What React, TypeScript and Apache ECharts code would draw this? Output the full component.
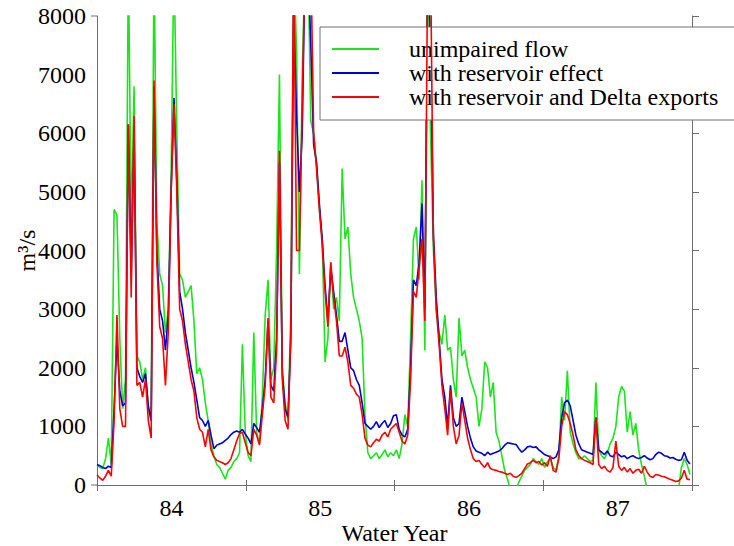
import React, { useEffect, useRef } from "react";
import * as echarts from "echarts";

// Water years shown on the axis
const waterYears = ["84", "85", "86", "87"];
// y-axis tick labels (m3/s)
const flowTicks = [0, 1000, 2000, 3000, 4000, 5000, 6000, 7000, 8000];
// weekly samples, week 0 = start of the plotted period (83.5)
const weeksInRange = 1461 / 7;

const seriesNames = [
  "unimpaired flow",
  "with reservoir effect",
  "with reservoir and Delta exports",
];

// m3/s, weekly samples
const unimpaired = [
  330, 300, 280, 450, 800, 350, 4700, 4600, 2500, 1300,
  1800, 9000, 4400, 6800, 2200, 2100, 1800, 2000, 1300, 1100,
  9000, 4500, 3600, 3400, 2600, 3000, 5300, 9000, 6000, 3600,
  3500, 3200, 3300, 3400, 2800, 1900, 2000, 1800, 1400, 1100,
  700, 500, 350, 300, 200, 100, 250, 300, 400, 450,
  550, 2400, 900, 500, 400, 2600, 900, 700, 1500, 2900,
  3500, 1800, 2000, 4000, 7000, 2000, 1400, 1100, 3000, 9000,
  7400, 3600, 7000, 9000, 9000, 6200, 6000, 5500, 4700, 4200,
  2100, 2500, 3800, 3000, 3200, 2800, 5400, 4200, 4400, 3600,
  3200, 3000, 2800, 2500, 1200, 550, 450, 500, 550, 450,
  520, 600, 480, 550, 500, 600, 450, 700, 1200, 1000,
  2500, 4200, 4400, 3500, 5200, 2300, 9000, 6000, 4000, 3000,
  2600, 2400, 2900, 2300, 2350, 1800, 1500, 2850, 2200, 2300,
  2000, 1800, 1650, 1500, 1000, 1300, 2100, 2000, 1500, 1750,
  900, 750, 500, 250, 100, -80, -80, -80, 50, 150,
  250, 300, 350, 450, 400, 350, 450, 300, 400, 450,
  300, 250, 500, 1500, 1100, 1950, 900, 700, 550, 450,
  450, 500, 450, 400, 420, 1750, 600, 500, 450, 550,
  700, 800, 1000, 1500, 1680, 1600, 900, 1250, 850, 1050,
  600, 350, 150, -80, -80, -80, -80, -80, -80, -80,
  -80, -80, -80, -80, -80, 300, 450, 350, 180,
];

const reservoir = [
  350, 330, 300, 280, 320, 300, 1300, 2500, 1600, 1350,
  1400, 6150, 3600, 6000, 2000, 1850, 1750, 1900, 1350, 1100,
  6800, 4000, 3000, 2800, 2300, 2900, 5000, 6600, 5200, 3300,
  3000, 2600, 2300, 2000, 1750, 1450, 1150, 1100, 1000, 1100,
  850, 620, 680, 700, 720, 760, 800, 860, 900, 920,
  900, 950, 870, 800, 700, 1050, 980, 900, 1300, 1800,
  2800, 1700, 1600, 2500, 5500, 1900, 1300, 1150, 2500, 8200,
  6300, 5000, 6000, 9000, 9000, 7500, 5800, 5500, 4800, 4200,
  3400, 2800, 3700, 3300, 2900, 2450, 2450, 2600, 2300, 2000,
  1950, 1800, 1700, 1400, 1050, 1000, 950, 1000, 1080, 980,
  1050, 1100, 980, 1050, 1180, 1200, 950, 850, 820, 950,
  2000, 3500, 3400, 3800, 4800, 3000, 9000, 7500, 4300, 3200,
  2500, 1800, 1500, 1000, 1700, 1150, 1000, 1050, 1500, 1250,
  1000, 800, 650, 580, 560, 540, 500, 560, 520, 540,
  560, 580, 620, 680, 720, 710, 700, 690, 620, 560,
  600, 650, 660, 640, 650, 600, 560, 520, 500, 480,
  450, 480, 600, 1150, 1400, 1450, 1350, 1100, 850, 700,
  600, 580, 560, 540, 520, 1150, 600, 560, 520, 580,
  500, 480, 560, 520, 480, 500, 450, 480, 500, 470,
  450, 470, 500, 460, 430, 450, 520, 560, 540, 500,
  490, 460, 470, 440, 420, 430, 560, 420, 360,
];

const reservoirExports = [
  170, 120, 80, 150, 250, 150, 1100, 2900, 1300, 1000,
  1000, 6150, 3200, 6300, 1700, 1750, 1500, 1800, 1100, 800,
  6900, 3800, 2700, 2500, 1700, 2600, 5000, 6500, 5000, 3000,
  2800, 2400, 2100, 1800, 1600, 1150, 950, 900, 650, 950,
  600, 480, 420, 400, 380, 350, 380, 450, 600, 750,
  880, 900, 720, 560, 500, 950, 850, 680, 1200, 1700,
  2850, 1500, 1400, 2300, 5700, 1800, 1100, 950, 2600, 9000,
  4000, 4000, 6500, 9000, 9000, 9000, 6000, 5400, 4700, 4100,
  3300, 2700, 3800, 3200, 2800, 2200, 2200, 2350, 2100, 1700,
  1650, 1550, 1500, 1200, 800, 680, 650, 720, 780, 750,
  850, 900, 820, 950, 1000, 1050, 900, 750, 700, 850,
  1800, 3300, 3200, 3700, 4200, 2800, 9000, 9000, 4200, 3000,
  2400, 1700, 1300, 850, 1620, 1000, 700, 850, 1400, 1100,
  800, 600, 450, 400, 420, 350, 300, 380, 280, 260,
  250, 230, 220, 200, 180, 200, 150, 130, 160, 200,
  280, 360, 380, 420, 380, 400, 340, 380, 320, 500,
  250, 220, 450, 1000, 1250, 1200, 1050, 850, 600, 500,
  450, 420, 400, 380, 350, 1150, 350, 280, 320, 250,
  220, 300, 750, 320, 250, 300, 220, 280, 200, 250,
  270, 200, 320, 220, 150, 130, 180, 170, 150, 140,
  120, 100, 80, 60, 70, 120, 250, 100, 90,
];

const colors = ["#19e619", "#0000d2", "#ff0000"];
const FONT = "Liberation Serif";
const AXIS_COLOR = "#6e6e6e";

export default function App() {
  const ref = useRef<HTMLDivElement>(null);

  useEffect(() => {
    if (!ref.current) return;
    const chart = echarts.init(ref.current, null, { renderer: "svg" });
    const toPairs = (arr: number[]) => arr.map((v, i) => [i, v]);
    const allSeries = [unimpaired, reservoir, reservoirExports];
    const tickLabel = { fontFamily: FONT, fontSize: 24, color: "#000" };

    chart.setOption({
      animation: false,
      backgroundColor: "#ffffff",
      textStyle: { fontFamily: FONT, fontSize: 24 },
      grid: {
        left: 97,
        right: 42,
        top: 16,
        bottom: 61,
        containLabel: false,
        outerBoundsMode: "none",
      },
      legend: {
        orient: "vertical",
        left: 320,
        top: 27,
        padding: [10, 60, 11, 12],
        itemGap: 0,
        itemWidth: 47,
        itemHeight: 2,
        icon: "rect",
        backgroundColor: "#ffffff",
        borderColor: "#707070",
        borderWidth: 1,
        borderRadius: 0,
        data: seriesNames,
        textStyle: {
          fontFamily: FONT,
          fontSize: 24,
          color: "#000",
          lineHeight: 23.5,
          padding: [0, 0, 0, 25],
        },
      },
      xAxis: [
        {
          type: "category",
          position: "bottom",
          data: waterYears,
          boundaryGap: true,
          axisLine: { lineStyle: { color: AXIS_COLOR, width: 1 } },
          axisTick: { show: true, inside: false, length: 6, lineStyle: { color: AXIS_COLOR } },
          axisLabel: { ...tickLabel, margin: 11 },
          splitLine: { show: false },
          name: "Water Year",
          nameLocation: "middle",
          nameGap: 36,
          nameMoveOverlap: false,
          nameTextStyle: { fontFamily: FONT, fontSize: 24, color: "#000" },
        },
        {
          type: "category",
          position: "top",
          data: waterYears,
          boundaryGap: true,
          axisLine: { lineStyle: { color: AXIS_COLOR, width: 1 } },
          axisTick: { show: true, inside: false, length: 5, lineStyle: { color: AXIS_COLOR } },
          axisLabel: { show: false },
          splitLine: { show: false },
        },
        {
          type: "value",
          show: false,
          min: 0,
          max: weeksInRange,
        },
      ],
      yAxis: [
        {
          type: "value",
          position: "left",
          min: 0,
          max: 8000,
          interval: 1000,
          axisLine: { show: true, lineStyle: { color: AXIS_COLOR, width: 1 } },
          axisTick: { show: false },
          axisLabel: {
            ...tickLabel,
            margin: 11,
            formatter: (v: number) => String(v),
          },
          splitLine: { show: false },
          name: "m³/s",
          nameLocation: "middle",
          nameGap: 58,
          nameRotate: 90,
          nameMoveOverlap: false,
          nameTextStyle: { fontFamily: FONT, fontSize: 24, color: "#000" },
        },
        {
          type: "value",
          position: "right",
          min: 0,
          max: 8000,
          interval: 1000,
          axisLine: { show: true, lineStyle: { color: AXIS_COLOR, width: 1 } },
          axisTick: { show: true, inside: false, length: 7, lineStyle: { color: AXIS_COLOR } },
          axisLabel: { show: false },
          splitLine: { show: false },
        },
      ],
      series: allSeries.map((arr, k) => ({
        name: seriesNames[k],
        type: "line",
        xAxisIndex: 2,
        yAxisIndex: 0,
        data: toPairs(arr),
        symbol: "none",
        clip: true,
        color: colors[k],
        lineStyle: { color: colors[k], width: 1.6 },
        z: 2 + k,
      })),
    });

    const axisLeft = chart.convertToPixel({ xAxisIndex: 2 }, 0) as number;
    const axisBottom = chart.convertToPixel({ yAxisIndex: 0 }, 0) as number;
    const axisTop = chart.convertToPixel({ yAxisIndex: 0 }, flowTicks[flowTicks.length - 1]) as number;
    const cornerTicks = [axisTop, axisBottom].map((y) => ({
      type: "line",
      silent: true,
      shape: { x1: axisLeft - 6, y1: y, x2: axisLeft, y2: y },
      style: { stroke: AXIS_COLOR, lineWidth: 1 },
    }));
    chart.setOption({ graphic: cornerTicks });

    return () => chart.dispose();
  }, []);

  return (
    <div
      ref={ref}
      style={{ position: "fixed", left: 0, top: 0, width: 734, height: 546 }}
    />
  );
}
